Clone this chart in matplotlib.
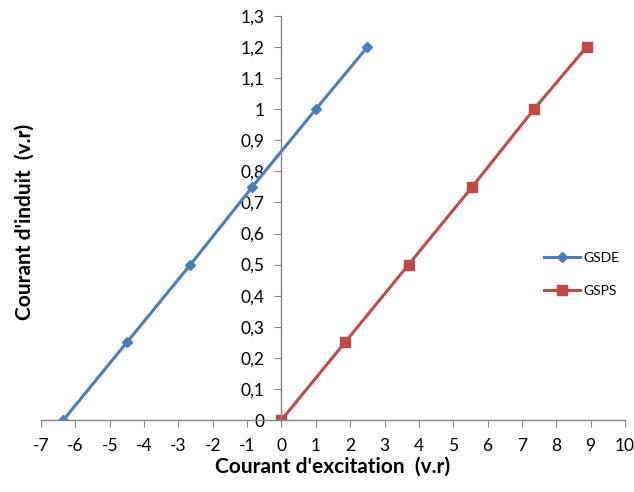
import matplotlib.pyplot as plt
from matplotlib.ticker import FuncFormatter, MultipleLocator

# Données
gsde_x = [-6.35, -4.5, -2.65, -0.85, 1.0, 2.5]
gsde_y = [0.0, 0.25, 0.5, 0.75, 1.0, 1.2]
gsps_x = [0.0, 1.85, 3.7, 5.55, 7.35, 8.88]
gsps_y = [0.0, 0.25, 0.5, 0.75, 1.0, 1.2]

plt.rcParams["font.family"] = ["Lato", "DejaVu Sans"]
plt.rcParams["axes.unicode_minus"] = False


def virgule(v, pos):
    if abs(v - round(v)) < 1e-9:
        return str(int(round(v)))
    return f"{v:.1f}".replace(".", ",")


fig = plt.figure(figsize=(6.34, 4.92), dpi=100)
ax = fig.add_axes([0.0647, 0.1463, 0.9211, 0.8212])

ax.plot(gsde_x, gsde_y, color="#4A7EBB", lw=2.2, marker="D", ms=5.5, label="GSDE")
ax.plot(gsps_x, gsps_y, color="#BE4B48", lw=2.2, marker="s", ms=7.5, label="GSPS")

ax.set_xlim(-7, 10)
ax.set_ylim(0, 1.3)
ax.xaxis.set_major_locator(MultipleLocator(1))
ax.yaxis.set_major_locator(MultipleLocator(0.1))
ax.xaxis.set_major_formatter(FuncFormatter(virgule))
ax.yaxis.set_major_formatter(FuncFormatter(virgule))

ax.spines["top"].set_visible(False)
ax.spines["right"].set_visible(False)
ax.spines["left"].set_position(("data", 0))
ax.spines["bottom"].set_position(("data", 0))
for s in ("left", "bottom"):
    ax.spines[s].set_color("#868686")
    ax.spines[s].set_linewidth(1.0)
ax.tick_params(axis="both", direction="out", length=5, color="#868686", labelsize=12.5, pad=7)
ax.tick_params(axis="x", pad=8)

ax.set_xlabel("Courant d'excitation  (v.r)", fontsize=15, fontweight="bold", labelpad=2)
# titre de l'axe Y placé à gauche de la figure (l'axe Y est au centre)
fig.text(25 / 634, 0.549, "Courant d'induit  (v.r)", fontsize=15, fontweight="bold",
         rotation=90, ha="center", va="center")

ax.legend(loc="center left", bbox_to_anchor=(0.84, 0.36), frameon=False,
          fontsize=10, handlelength=2.6, labelspacing=1.5, handletextpad=0.2)

fig.savefig("out.png", dpi=100)
